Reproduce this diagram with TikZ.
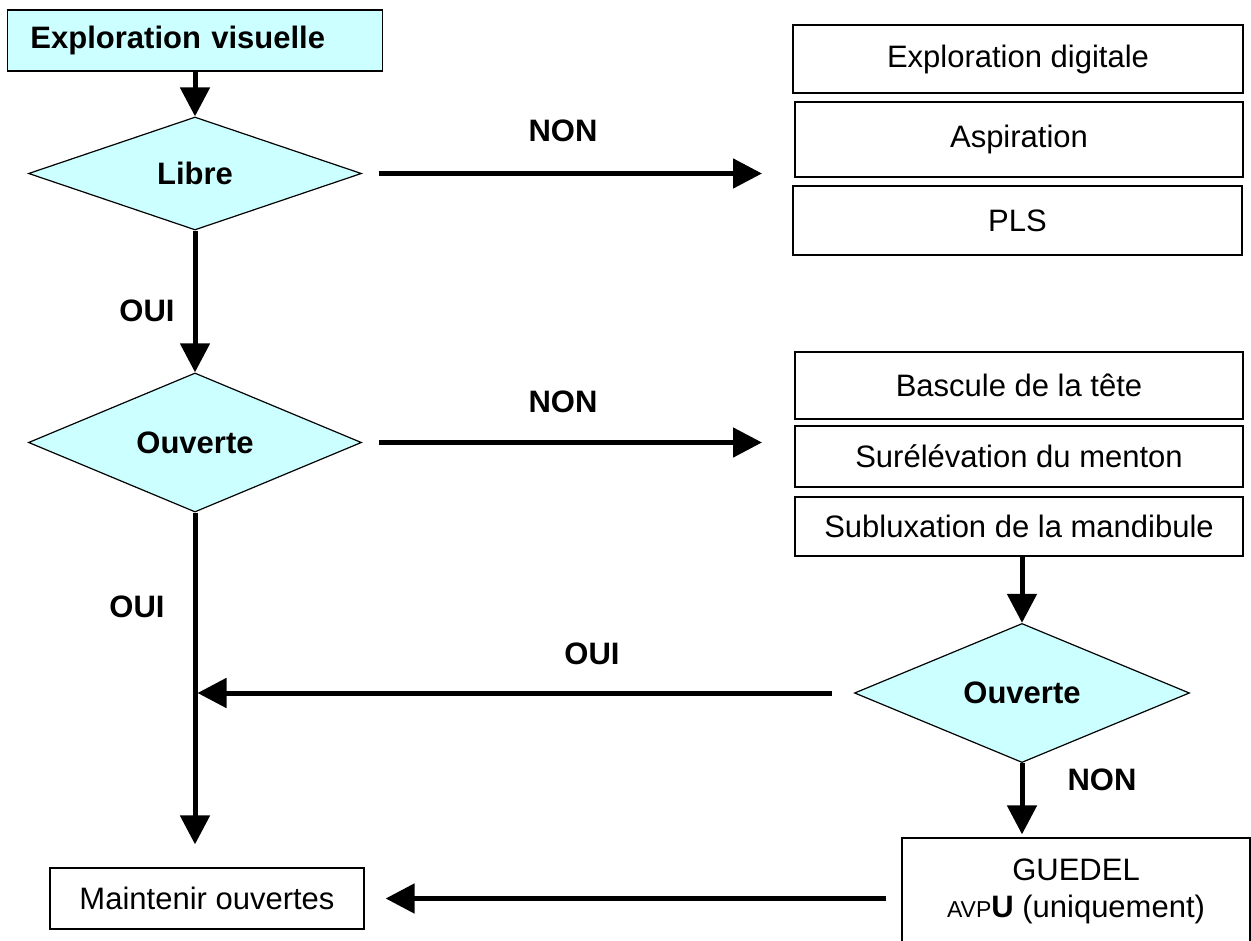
\documentclass[tikz,border=0pt]{standalone}
\usepackage{fontspec}
\setmainfont{Liberation Sans}
\usetikzlibrary{shapes.geometric,arrows.meta}
\definecolor{pale}{RGB}{204,255,255}
\newcommand\flowfont{\fontsize{31pt}{37pt}\selectfont}
\newcommand\avpfont{\fontsize{23pt}{37pt}\selectfont}
\begin{document}
\begin{tikzpicture}[x=1pt,y=-1pt,
  rbox/.style={draw=black,line width=1.2pt,inner sep=0pt,font=\flowfont},
  startbox/.style={draw=black,fill=pale,line width=1.2pt,font=\flowfont\bfseries,
    text width=329pt,inner xsep=23pt,inner ysep=0pt,align=left,minimum height=61pt},
  decision/.style={diamond,draw=black,fill=pale,line width=1.2pt,inner sep=0pt,
    font=\flowfont\bfseries,minimum width=333pt,minimum height=#1},
  lab/.style={font=\flowfont\bfseries,inner sep=0pt},
  flow/.style={line width=5pt,-{Triangle[length=29pt,width=29pt]}}]
\useasboundingbox (0,0) rectangle (1251,941);

% start and first decision
\node[startbox] (expl) at (195,40.5) {Exploration visuelle};
\node[decision=113pt] (libre) at (195,173.5) {Libre};
\node[decision=121pt] (ouv1) at (195,442.5) {Ouverte};

% actions when the airway is not free
\node[rbox,minimum width=450pt,minimum height=68pt] (digit) at (1018,59) {Exploration digitale};
\node[rbox,minimum width=448pt,minimum height=75pt] (aspir) at (1019,139.5) {Aspiration};
\node[rbox,minimum width=449pt,minimum height=69pt] (pls) at (1017.5,220.5) {PLS};

% manoeuvres when the airway is not open
\node[rbox,minimum width=448pt,minimum height=67pt] (bascule) at (1019,385.5) {Bascule de la tête};
\node[rbox,minimum width=448pt,minimum height=61pt] (surel) at (1019,456.5) {Surélévation du menton};
\node[rbox,minimum width=448pt,minimum height=59pt] (sublux) at (1019,526.5) {Subluxation de la mandibule};

% second check and outcomes
\node[decision=121pt,minimum width=335pt] (ouv2) at (1022,693) {Ouverte};
\node[rbox,minimum width=348pt,minimum height=106pt,align=center] (guedel) at (1076,891)
  {GUEDEL\\{\avpfont AVP}\textbf{U} (uniquement)};
\node[rbox,minimum width=314pt,minimum height=61pt] (maint) at (207,898.5) {Maintenir ouvertes};

% free ends of horizontal connectors
\coordinate (nonA) at (762,173.5);
\coordinate (nonB) at (762,442.5);
\coordinate (join) at (197.5,693);

% connectors
\draw[flow] (expl.south) -- (libre.north);
\draw[flow] (libre.south) -- (ouv1.north);
\draw[flow,shorten <=17pt] (libre.east) -- (nonA);
\draw[flow,shorten <=17pt] (ouv1.east) -- (nonB);
\draw[flow,shorten >=23pt] (ouv1.south) -- (ouv1.south |- maint.north);
\draw[flow] (ouv2.north |- sublux.south) -- (ouv2.north);
\draw[flow,shorten <=22pt] (ouv2.west) -- (join);
\draw[flow,shorten >=3pt] (ouv2.south) -- (ouv2.south |- guedel.north);
\draw[flow,shorten <=15pt,shorten >=21pt] (maint.east -| guedel.west) -- (maint.east);

% branch labels
\node[lab] (l1) at (563,131) {NON};
\node[lab] (l2) at (147,311) {OUI};
\node[lab] (l3) at (563,402) {NON};
\node[lab] (l4) at (137,607) {OUI};
\node[lab] (l5) at (592,654) {OUI};
\node[lab] (l6) at (1102,780) {NON};
\end{tikzpicture}
\end{document}
